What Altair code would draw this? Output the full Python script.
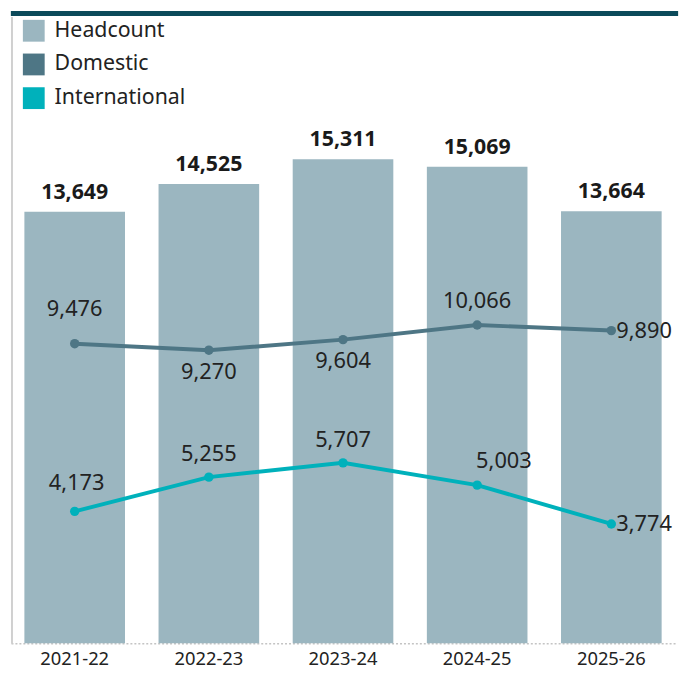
import altair as alt
import pandas as pd
import json

years = ["2021-22", "2022-23", "2023-24", "2024-25", "2025-26"]
headcount = [13649, 14525, 15311, 15069, 13664]
domestic = [9476, 9270, 9604, 10066, 9890]
international = [4173, 5255, 5707, 5003, 3774]

series_names = ["Headcount", "Domestic", "International"]
series_colors = ["#9bb6c0", "#4e7685", "#00b1bb"]

bars_df = pd.DataFrame({"year": years, "value": headcount, "series": "Headcount"})
lines_df = pd.concat([
    pd.DataFrame({"year": years, "value": domestic, "series": "Domestic"}),
    pd.DataFrame({"year": years, "value": international, "series": "International"}),
], ignore_index=True)

FONT = "Noto Sans"
W = 670
H = 638

x_enc = alt.X("year:N", sort=years, title=None,
              scale=alt.Scale(paddingInner=0.25, paddingOuter=0.1),
              axis=alt.Axis(labelAngle=0, labelFontSize=18.5, labelColor="#222222",
                            labelFont=FONT, ticks=False, labelPadding=6,
                            domainColor="#c4c4c4", domainDash=[2, 2], domainWidth=1.5))
y_enc = alt.Y("value:Q", scale=alt.Scale(domain=[0, 20000], nice=False, zero=True), axis=None)

color_scale = alt.Scale(domain=series_names, range=series_colors)
legend = alt.Legend(
    title=None, orient="none", legendX=12, legendY=9, padding=0,
    symbolType="square", symbolSize=484, symbolStrokeWidth=0, symbolOpacity=1,
    labelFontSize=21.5, labelFont=FONT, labelColor="#222222", labelOffset=10,
    rowPadding=12, labelLimit=300,
)

bars = alt.Chart(bars_df).mark_bar().encode(
    x=x_enc, y=y_enc, color=alt.Color("series:N", scale=color_scale, legend=legend))

bar_labels = alt.Chart(bars_df).mark_text(
    fontSize=21.5, fontWeight="bold", font=FONT, color="#1a1a1a", dy=-13, baseline="alphabetic"
).encode(x=alt.X("year:N", sort=years), y="value:Q", text=alt.Text("value:Q", format=","))

lines = alt.Chart(lines_df).mark_line(strokeWidth=4, point=alt.OverlayMarkDef(size=90, filled=True)).encode(
    x=alt.X("year:N", sort=years), y="value:Q",
    color=alt.Color("series:N", scale=color_scale, legend=None))

def label_layer(series, yrs, **kw):
    expr = f"datum.series == '{series}' && indexof({json.dumps(yrs)}, datum.year) >= 0"
    return alt.Chart(lines_df).transform_filter(expr).mark_text(
        fontSize=22, font=FONT, color="#222222", baseline="middle", **kw).encode(
        x=alt.X("year:N", sort=years), y="value:Q", text=alt.Text("value:Q", format=","))

labels = [
    label_layer("Domestic", ["2021-22"], dy=-35),
    label_layer("Domestic", ["2024-25"], dy=-24),
    label_layer("Domestic", ["2022-23", "2023-24"], dy=22),
    label_layer("Domestic", ["2025-26"], dx=5, align="left"),
    label_layer("International", ["2021-22"], dy=-29, dx=2),
    label_layer("International", ["2022-23", "2023-24"], dy=-23),
    label_layer("International", ["2024-25"], dy=-24, dx=27),
    label_layer("International", ["2025-26"], dx=5, align="left"),
]

top_rule = alt.Chart(bars_df).mark_rule(color="#0b4a5a", strokeWidth=5).encode(
    x=alt.value(0), x2=alt.value(W + 3), y=alt.value(2.5))
left_rule = alt.Chart(bars_df).mark_rule(color="#d0d0d0", strokeWidth=1.5).encode(
    x=alt.value(1), y=alt.value(6), y2=alt.value(H))

chart = alt.layer(bars, bar_labels, lines, *labels, top_rule, left_rule).properties(
    width=W, height=H, padding=0
).configure(font=FONT).configure_view(stroke=None)

chart.save("out.html", embed_options={"renderer": "svg", "actions": False})
